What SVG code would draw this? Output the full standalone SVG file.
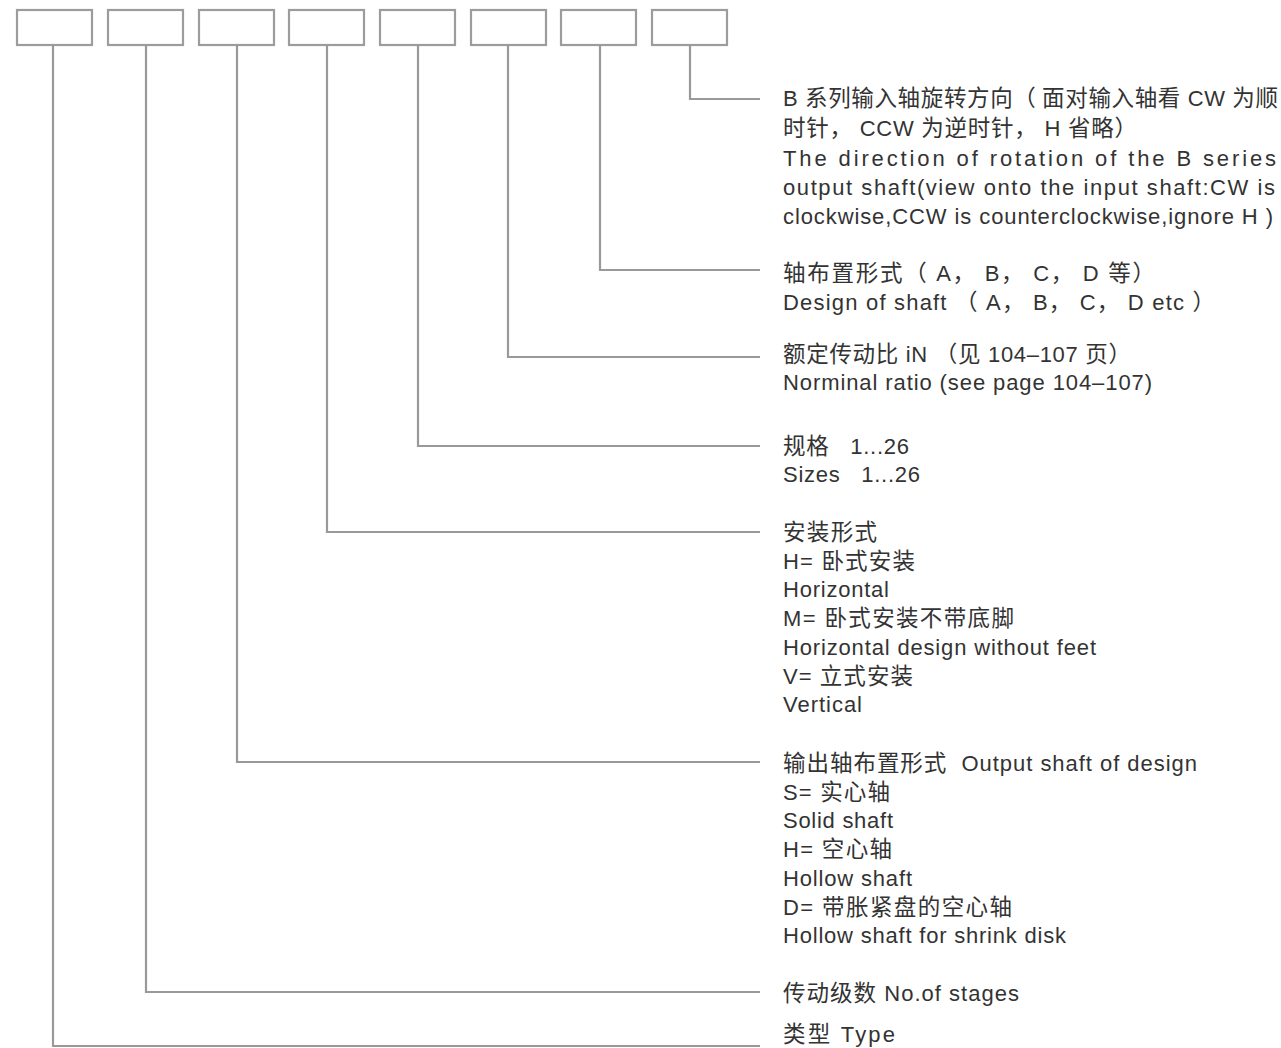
<svg xmlns="http://www.w3.org/2000/svg" width="1281" height="1048" viewBox="0 0 1281 1048">
<style>
.bg{fill:#ffffff}
.box{fill:#ffffff;stroke:#9c9c9c;stroke-width:2.2}
.conn{fill:none;stroke:#999999;stroke-width:2.2}
.t{font-family:"Liberation Sans","Noto Sans CJK SC",sans-serif;font-size:22px;fill:#333333}
.c{font-family:"Noto Sans CJK SC",sans-serif;font-size:22.5px}
</style>
<rect class="bg" x="0" y="0" width="1281" height="1048"/>
<g id="boxes">
<g id="box1"><rect class="box" x="17" y="10" width="75" height="35"/></g>
<g id="box2"><rect class="box" x="108" y="10" width="75" height="35"/></g>
<g id="box3"><rect class="box" x="199" y="10" width="75" height="35"/></g>
<g id="box4"><rect class="box" x="289" y="10" width="75" height="35"/></g>
<g id="box5"><rect class="box" x="380" y="10" width="75" height="35"/></g>
<g id="box6"><rect class="box" x="471" y="10" width="75" height="35"/></g>
<g id="box7"><rect class="box" x="561" y="10" width="75" height="35"/></g>
<g id="box8"><rect class="box" x="652" y="10" width="75" height="35"/></g>
</g>
<g id="connectors">
<polyline class="conn" points="690,45 690,99 760,99"/>
<polyline class="conn" points="600,45 600,270 760,270"/>
<polyline class="conn" points="508,45 508,357 760,357"/>
<polyline class="conn" points="418,45 418,446 760,446"/>
<polyline class="conn" points="327,45 327,532 760,532"/>
<polyline class="conn" points="237,45 237,762 760,762"/>
<polyline class="conn" points="146,45 146,992 760,992"/>
<polyline class="conn" points="53,45 53,1046 760,1046"/>
</g>
<g id="label8">
<text class="t" x="783" y="106" textLength="495" lengthAdjust="spacing">B <tspan class="c">系列输入轴旋转方向（ 面对输入轴看</tspan> CW <tspan class="c">为顺</tspan></text>
<text class="t" x="783" y="136" textLength="354" lengthAdjust="spacing"><tspan class="c">时针，</tspan> CCW <tspan class="c">为逆时针，</tspan> H <tspan class="c">省略）</tspan></text>
<text class="t" x="783" y="166" textLength="493" lengthAdjust="spacing">The direction of rotation of the B series</text>
<text class="t" x="783" y="195" textLength="492" lengthAdjust="spacing">output shaft(view onto the input shaft:CW is</text>
<text class="t" x="783" y="224" textLength="490" lengthAdjust="spacing">clockwise,CCW is counterclockwise,ignore H )</text>
</g>
<g id="label7">
<text class="t" x="783" y="281" textLength="372" lengthAdjust="spacing"><tspan class="c">轴布置形式（</tspan> A<tspan class="c">，</tspan> B<tspan class="c">，</tspan> C<tspan class="c">，</tspan> D <tspan class="c">等）</tspan></text>
<text class="t" x="783" y="310" textLength="432" lengthAdjust="spacing">Design of shaft <tspan class="c">（</tspan> A<tspan class="c">，</tspan> B<tspan class="c">，</tspan> C<tspan class="c">，</tspan> D etc <tspan class="c">）</tspan></text>
</g>
<g id="label6">
<text class="t" x="783" y="362" textLength="348" lengthAdjust="spacing"><tspan class="c">额定传动比</tspan> iN <tspan class="c">（见</tspan> 104–107 <tspan class="c">页）</tspan></text>
<text class="t" x="783" y="390" textLength="369" lengthAdjust="spacing">Norminal ratio (see page 104–107)</text>
</g>
<g id="label5">
<text class="t" x="783" y="454" textLength="126" lengthAdjust="spacing" xml:space="preserve"><tspan class="c">规格</tspan>   1...26</text>
<text class="t" x="783" y="482" textLength="137" lengthAdjust="spacing" xml:space="preserve">Sizes   1...26</text>
</g>
<g id="label4">
<text class="t" x="783" y="540" textLength="94" lengthAdjust="spacing"><tspan class="c">安装形式</tspan></text>
<text class="t" x="783" y="569" textLength="132" lengthAdjust="spacing">H= <tspan class="c">卧式安装</tspan></text>
<text class="t" x="783" y="597" textLength="106" lengthAdjust="spacing">Horizontal</text>
<text class="t" x="783" y="626" textLength="231" lengthAdjust="spacing">M= <tspan class="c">卧式安装不带底脚</tspan></text>
<text class="t" x="783" y="655" textLength="313" lengthAdjust="spacing">Horizontal design without feet</text>
<text class="t" x="783" y="684" textLength="130" lengthAdjust="spacing">V= <tspan class="c">立式安装</tspan></text>
<text class="t" x="783" y="712" textLength="79" lengthAdjust="spacing">Vertical</text>
</g>
<g id="label3">
<text class="t" x="783" y="771" textLength="414" lengthAdjust="spacing" xml:space="preserve"><tspan class="c">输出轴布置形式</tspan>  Output shaft of design</text>
<text class="t" x="783" y="800" textLength="107" lengthAdjust="spacing">S= <tspan class="c">实心轴</tspan></text>
<text class="t" x="783" y="828" textLength="110" lengthAdjust="spacing">Solid shaft</text>
<text class="t" x="783" y="857" textLength="109" lengthAdjust="spacing">H= <tspan class="c">空心轴</tspan></text>
<text class="t" x="783" y="886" textLength="129" lengthAdjust="spacing">Hollow shaft</text>
<text class="t" x="783" y="915" textLength="229" lengthAdjust="spacing">D= <tspan class="c">带胀紧盘的空心轴</tspan></text>
<text class="t" x="783" y="943" textLength="283" lengthAdjust="spacing">Hollow shaft for shrink disk</text>
</g>
<g id="label2">
<text class="t" x="783" y="1001" textLength="236" lengthAdjust="spacing"><tspan class="c">传动级数</tspan> No.of stages</text>
</g>
<g id="label1">
<text class="t" x="783" y="1042" textLength="112" lengthAdjust="spacing"><tspan class="c">类型</tspan> Type</text>
</g>
</svg>
